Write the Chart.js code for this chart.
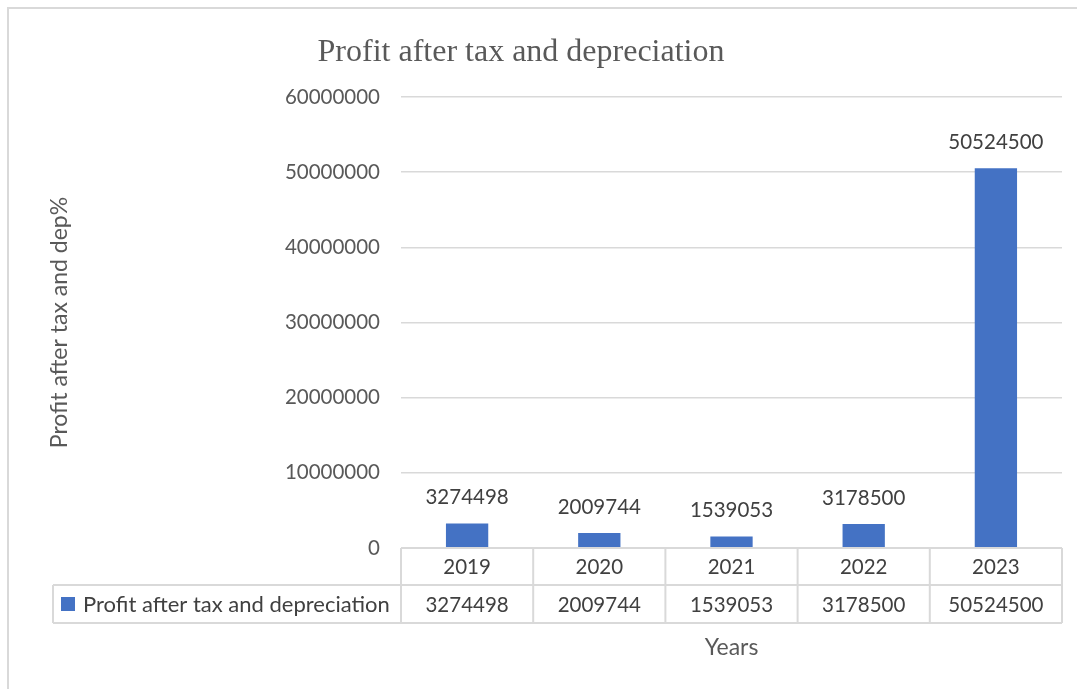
<!DOCTYPE html>
<html>
<head>
<meta charset="utf-8">
<title>Profit after tax and depreciation</title>
<script src="https://cdn.jsdelivr.net/npm/chart.js@4/dist/chart.umd.min.js"></script>
<style>
    body { margin: 0; background: #ffffff; }
    canvas { display: block; }
</style>
</head>
<body>
<canvas id="profitChart" width="1077" height="689"></canvas>
<script>
var years = ['2019', '2020', '2021', '2022', '2023'];
var profit = [3274498, 2009744, 1539053, 3178500, 50524500];
var yTicks = [0, 10000000, 20000000, 30000000, 40000000, 50000000, 60000000];
var seriesName = 'Profit after tax and depreciation';

var SANS = 'Lato, "Open Sans", sans-serif';
var lineGrey = '#d9d9d9';

// frame, title, bar value labels and the data table under the axis
var tablePlugin = {
    id: 'tablePlugin',
    afterDraw: function (chart) {
        var ctx = chart.ctx;
        var area = chart.chartArea;
        var x = chart.scales.x;
        var meta = chart.getDatasetMeta(0);
        var colW = (area.right - area.left) / years.length;
        var row1 = area.bottom, row2 = 585, row3 = 623;
        var rowMid = (row2 + row3) / 2 + 1;

        ctx.save();
        // outer frame
        ctx.strokeStyle = lineGrey;
        ctx.lineWidth = 2;
        ctx.beginPath();
        ctx.moveTo(8, 689);
        ctx.lineTo(8, 8);
        ctx.lineTo(1077, 8);
        ctx.stroke();

        // title
        ctx.fillStyle = '#595959';
        ctx.font = '32px "Liberation Serif", "Times New Roman", serif';
        ctx.textAlign = 'center';
        ctx.textBaseline = 'middle';
        ctx.fillText('Profit after tax and depreciation', 521, 53);

        // value labels over bars
        ctx.fillStyle = '#404040';
        ctx.font = '20.5px ' + SANS;
        meta.data.forEach(function (bar, i) {
            ctx.fillText(String(profit[i]), bar.x, bar.y - 26);
        });

        // table grid
        ctx.strokeStyle = lineGrey;
        ctx.lineWidth = 2;
        ctx.beginPath();
        ctx.moveTo(area.left, row1); ctx.lineTo(area.right, row1);
        ctx.moveTo(53, row2); ctx.lineTo(area.right, row2);
        ctx.moveTo(53, row3); ctx.lineTo(area.right, row3);
        ctx.moveTo(53, row2); ctx.lineTo(53, row3);
        for (var i = 0; i <= years.length; i++) {
            var cx = area.left + i * colW;
            ctx.moveTo(cx, row1); ctx.lineTo(cx, row3);
        }
        ctx.stroke();

        // legend key
        ctx.fillStyle = '#4472c4';
        ctx.fillRect(61, 597, 14, 14);
        ctx.fillStyle = '#404040';
        ctx.textAlign = 'left';
        ctx.font = '22px ' + SANS;
        ctx.fillText(seriesName, 83, rowMid);

        // values row
        ctx.textAlign = 'center';
        ctx.font = '20.5px ' + SANS;
        profit.forEach(function (v, i) {
            ctx.fillText(String(v), x.getPixelForValue(i), rowMid);
        });
        ctx.restore();
    }
};

new Chart(document.getElementById('profitChart'), {
    type: 'bar',
    data: {
        labels: years,
        datasets: [{
            label: seriesName,
            data: profit,
            backgroundColor: '#4472c4',
            borderWidth: 0,
            barPercentage: 0.32,
            categoryPercentage: 1
        }]
    },
    options: {
        responsive: false,
        animation: false,
        devicePixelRatio: 1,
        layout: {
            padding: { top: 97, right: 15, bottom: 0, left: 0 }
        },
        plugins: {
            legend: { display: false },
            title: { display: false },
            tooltip: { enabled: false }
        },
        scales: {
            x: {
                grid: { display: false, drawTicks: false },
                border: { display: false },
                ticks: {
                    color: '#404040',
                    font: { family: SANS, size: 20.5 },
                    padding: 7
                },
                title: {
                    display: true,
                    text: 'Years',
                    color: '#595959',
                    font: { family: SANS, size: 23 },
                    padding: { top: 0, bottom: 28 }
                },
                afterFit: function (s) {
                    s.height = 141;
                    s.paddingLeft = 0;
                    s.paddingRight = 0;
                }
            },
            y: {
                min: 0,
                max: 60000000,
                afterBuildTicks: function (s) {
                    s.ticks = yTicks.map(function (v) { return { value: v }; });
                },
                grid: { color: lineGrey, lineWidth: 1.5, drawTicks: false },
                border: { display: false },
                ticks: {
                    color: '#595959',
                    font: { family: SANS, size: 20.5 },
                    padding: 21,
                    callback: function (v) { return String(v); }
                },
                title: {
                    display: true,
                    text: 'Profit after tax and dep%',
                    color: '#595959',
                    font: { family: SANS, size: 23 },
                    padding: { top: 46, bottom: 0 }
                },
                afterFit: function (s) {
                    s.width = 401;
                    s.paddingTop = 0;
                    s.paddingBottom = 0;
                }
            }
        }
    },
    plugins: [tablePlugin]
});
</script>
</body>
</html>
